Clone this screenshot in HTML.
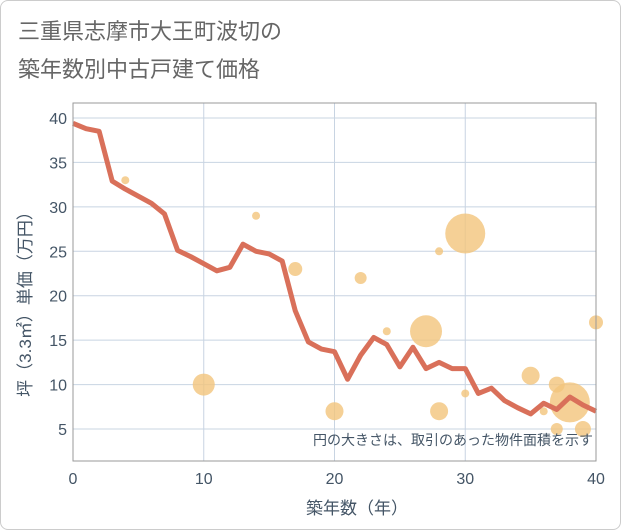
<!DOCTYPE html>
<html><head><meta charset="utf-8"><style>
body{margin:0;background:#fff;}
#card{position:absolute;left:0;top:0;width:619px;height:528px;border:1px solid #ccc;border-radius:8px;background:#fff;}
svg text{font-family:"Liberation Sans","Noto Sans CJK JP",sans-serif;}
</style></head><body>
<div id="card"></div>
<svg id="chart" width="621" height="530" style="position:absolute;left:0;top:0">
<text x="18" y="39" font-size="22" fill="#666">三重県志摩市大王町波切の</text>
<text x="18" y="77" font-size="22" fill="#666">築年数別中古戸建て価格</text>
<g id="grid"></g><g id="bubbles"></g><g id="line"></g><g id="axes"></g>
<text x="593" y="445" font-size="14" fill="#445566" text-anchor="end">円の大きさは、取引のあった物件面積を示す</text>
<text x="357" y="514" font-size="17" fill="#445566" text-anchor="middle">築年数（年）</text>
<text transform="translate(31,300) rotate(-90)" font-size="17" fill="#445566" text-anchor="middle">坪（3.3㎡）単価（万円）</text>
</svg>
<script>
const years=[0,1,2,3,4,5,6,7,8,9,10,11,12,13,14,15,16,17,18,19,20,21,22,23,24,25,26,27,28,29,30,31,32,33,34,35,36,37,38,39,40];
const prices=[39.4,38.8,38.5,32.9,32.0,31.2,30.4,29.2,25.1,24.4,23.6,22.8,23.2,25.8,25.0,24.7,23.9,18.3,14.8,14.0,13.7,10.6,13.3,15.3,14.5,12.0,14.2,11.8,12.5,11.8,11.8,9.0,9.6,8.2,7.4,6.7,7.9,7.2,8.6,7.7,7.0];
const bubbleX=[4,10,14,17,20,22,24,27,28,28,30,30,35,36,37,37,38,39,40];
const bubbleY=[33,10,29,23,7,22,16,16,7,25,27,9,11,7,10,5,8,5,17];
const bubbleSize=[4,11,4,7,9,6,4,16,9,4,20,4,9,4,8,6,20,8,7];
const xTicks=[0,10,20,30,40];
const yTicks=[5,10,15,20,25,30,35,40];
const L=73,R=596,T=103,B=461;
const xs=v=>L+(v-0)/40*(R-L);
const ys=v=>118+(40-v)*8.886;
const NS="http://www.w3.org/2000/svg";
function mk(tag,attrs,parent){const e=document.createElementNS(NS,tag);for(const k in attrs)e.setAttribute(k,attrs[k]);document.getElementById(parent).appendChild(e);return e;}
const bg=mk('rect',{x:L,y:T,width:R-L,height:B-T,fill:'#fff',stroke:'#999','stroke-width':1},'grid');


yTicks.forEach(t=>{
 const g=mk('line',{x1:L,x2:R,y1:ys(t),y2:ys(t),stroke:'#c8d4e2','stroke-width':1},'grid');
 
 
 const tx=mk('text',{x:L-6,y:ys(t)+6,'font-size':16,fill:'#445566','text-anchor':'end'},'axes');
 tx.textContent=t;
 
 
});
xTicks.forEach(t=>{
 const g=mk('line',{x1:xs(t),x2:xs(t),y1:T,y2:B,stroke:'#c8d4e2','stroke-width':1},'grid');
 
 
 const tx=mk('text',{x:xs(t),y:B+23,'font-size':16,fill:'#445566','text-anchor':'middle'},'axes');
 tx.textContent=t;
 
 
});
const ax=mk('rect',{x:L,y:T,width:R-L,height:B-T,fill:'none',stroke:'#999','stroke-width':1},'axes');


bubbleX.forEach((x,i)=>{
 const c=mk('circle',{cx:xs(x),cy:ys(bubbleY[i]),r:bubbleSize[i],fill:'#f3c47c','fill-opacity':0.8},'bubbles');
 
 
});
const p=mk('polyline',{points:years.map((y,i)=>xs(y)+','+ys(prices[i])).join(' '),fill:'none',stroke:'#d9705a','stroke-width':5,'stroke-linejoin':'round'},'line');


</script>
</body></html>
